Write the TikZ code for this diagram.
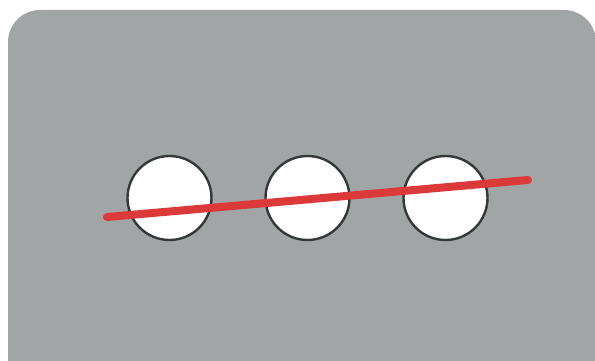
\documentclass[tikz,border=0pt]{standalone}
\usetikzlibrary{positioning}
\definecolor{cPanel}{HTML}{A2A5A6}
\definecolor{cRing}{HTML}{353839}
\definecolor{cLine}{HTML}{DC3A3A}

\begin{document}
\begin{tikzpicture}[
  x=1pt, y=-1pt,
  panel/.style={fill=cPanel, draw=none, rounded corners=32pt},
  hole/.style={circle, draw=cRing, fill=white, line width=2.4pt,
    minimum size=84pt, inner sep=0pt},
  rod/.style={draw=cLine, line width=8pt, line cap=round}
]
  \useasboundingbox (0,0) rectangle (595,361);
  \clip (0,0) rectangle (595,361);
  \fill[white] (0,0) rectangle (595,361);
  \path[panel] (8,10) rectangle (596,420);

  \node[hole] (left) at (169.5,198) {};
  \node[hole, right=51.6pt of left] (mid) {};
  \node[hole, right=51.6pt of mid] (right) {};

  \coordinate (rodA) at (107,217);
  \coordinate (rodB) at (528,180);
  \draw[rod] (rodA) -- (rodB);

\end{tikzpicture}
\end{document}
